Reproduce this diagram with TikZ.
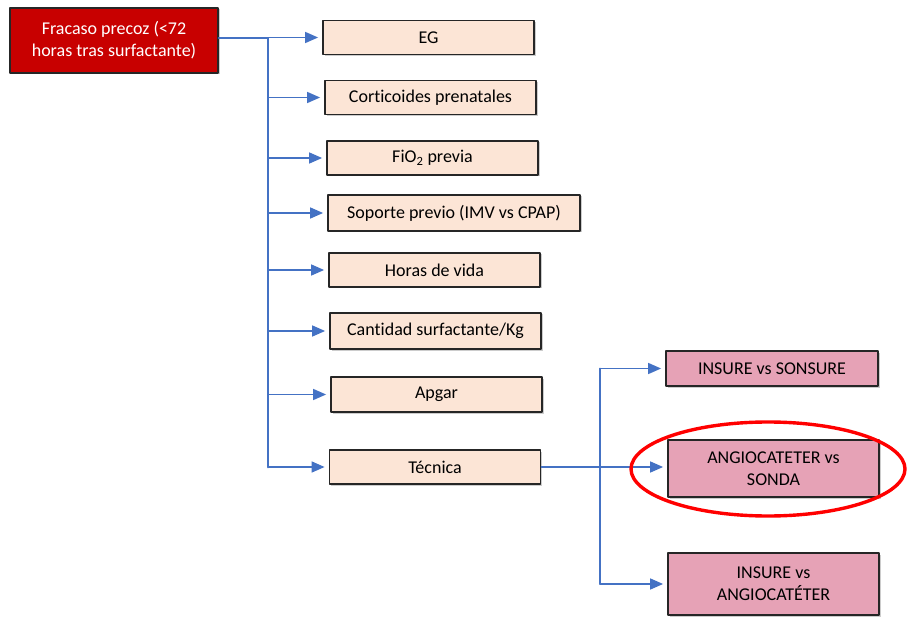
\documentclass[tikz,border=0pt]{standalone}
\usepackage{fontspec}
\setmainfont[Ligatures=NoCommon]{Carlito}
\usetikzlibrary{arrows.meta,shadows}
\definecolor{peach}{RGB}{252,229,214}
\definecolor{rosa}{RGB}{230,162,182}
\definecolor{rojo}{RGB}{200,0,0}
\definecolor{azul}{RGB}{68,114,196}
\begin{document}
\begin{tikzpicture}[x=1pt,y=-1pt,line cap=round,line join=round,
  font=\fontsize{18}{22}\selectfont,
  caja/.style={draw=black!85,line width=1.8pt,minimum width=211pt,minimum height=34pt,inner sep=2pt,align=center,drop shadow={shadow xshift=1.5pt,shadow yshift=-1.5pt,opacity=0.4}},
  factor/.style={caja,fill=peach},
  tecnica/.style={caja,fill=rosa},
  flecha/.style={-{Triangle[length=13pt,width=11pt]},azul,line width=1.6pt,shorten >=4pt}]
\useasboundingbox (0,0) rectangle (907,617);
\node[caja,fill=rojo,text=white,minimum width=208pt,minimum height=65pt] (fracaso) at (114,40.5) {Fracaso precoz (<72\\horas tras surfactante)};
\node[factor] (eg) at (428.5,37.5) {EG};
\node[factor] (cort) at (430.5,97.5) {Corticoides prenatales};
\node[factor] (fio) at (432.5,158) {FiO\textsubscript{2} previa};
\node[factor,minimum width=252pt,minimum height=36pt] (soporte) at (454,213) {Soporte previo (IMV vs CPAP)};
\node[factor] (horas) at (434.5,270) {Horas de vida};
\node[factor,minimum height=36pt] (cantidad) at (435.5,331) {Cantidad surfactante/Kg};
\node[factor,minimum height=35pt] (apgar) at (436.5,394.5) {Apgar};
\node[factor] (tec) at (435,467) {Técnica};
\node[tecnica,minimum width=212pt,minimum height=35pt] (sonsure) at (772,368.5) {INSURE vs SONSURE};
\node[tecnica,minimum height=57pt] (angio) at (773.5,468.5) {ANGIOCATETER vs\\SONDA};
\node[tecnica,minimum height=62pt] (insure) at (773.5,584) {INSURE vs\\ANGIOCATÉTER};
\coordinate (bus) at (268,38);
\coordinate (rama) at (600,467);
\draw[azul,line width=2.8pt] (fracaso.east |- bus) -- (bus) -- (bus |- tec.west);
\foreach \n in {eg,cort,fio,soporte,horas,cantidad,apgar,tec}
  \draw[flecha] (bus |- \n.west) -- (\n.west);
\draw[azul,line width=1.6pt] (tec.east) -- (rama);
\draw[flecha] (rama) -- (rama -| angio.west);
\draw[azul,line width=1.6pt] (rama |- sonsure.west) -- (rama |- insure.west);
\draw[flecha] (rama |- sonsure.west) -- (sonsure.west);
\draw[flecha] (rama |- insure.west) -- (insure.west);
\draw[red,line width=3.4pt] (768,469) ellipse [x radius=137,y radius=47];
\end{tikzpicture}
\end{document}
